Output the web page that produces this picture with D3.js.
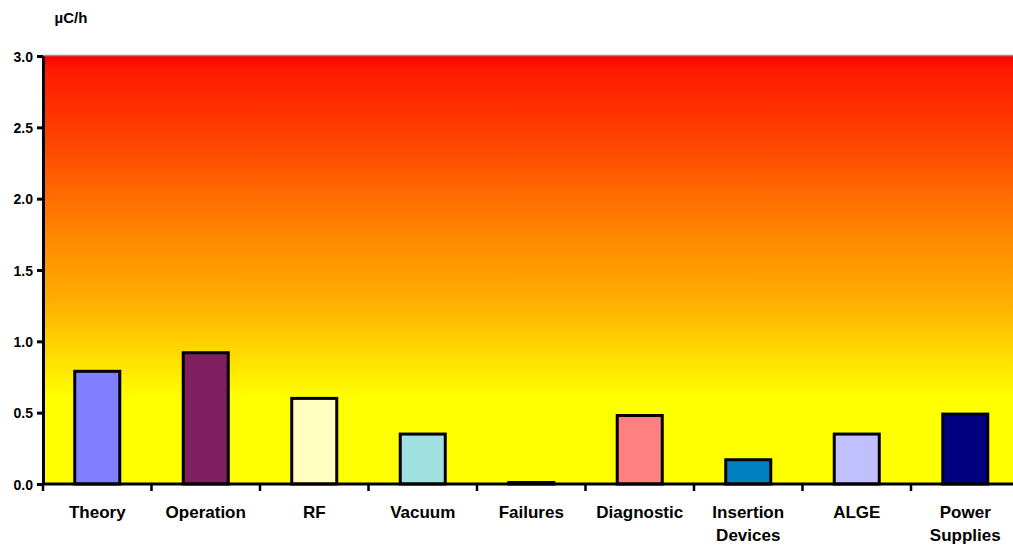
<!DOCTYPE html>
<html>
<head>
<meta charset="utf-8">
<script src="https://cdn.jsdelivr.net/npm/d3@7"></script>
<style>
  html, body { margin: 0; padding: 0; background: #fff; }
  svg { display: block; }
  text { font-family: "Liberation Sans", Arial, sans-serif; font-weight: bold; fill: #000; }
</style>
</head>
<body>
<svg id="chart" width="1013" height="551"></svg>
<script>
// Charge rate per group, in µC/h
const categories = ["Theory", "Operation", "RF", "Vacuum", "Failures", "Diagnostic", "Insertion Devices", "ALGE", "Power Supplies"];
const values = [0.79, 0.92, 0.60, 0.35, 0.01, 0.48, 0.17, 0.35, 0.49];
const barColors = ["#8080ff", "#7f1f5f", "#ffffc0", "#a0e0e0", "#600080", "#ff8080", "#0080c0", "#c0c0ff", "#000080"];
const yTicks = [0, 0.5, 1.0, 1.5, 2.0, 2.5, 3.0];
const unitLabel = "µC/h";

const svg = d3.select("#chart");
const margin = { left: 43, top: 56, bottom: 67 };
const plotW = 108.5 * categories.length;
const plotH = 551 - margin.top - margin.bottom;

const x = d3.scaleBand().domain(categories).range([margin.left, margin.left + plotW]).paddingInner(0.585).paddingOuter(0.2925);
const xTicks = d3.scaleBand().domain(categories).range([margin.left, margin.left + plotW]);
const y = d3.scaleLinear().domain([0, 3]).range([margin.top + plotH, margin.top]);

// background gradient: red at the top fading through orange to yellow
const defs = svg.append("defs");
const grad = defs.append("linearGradient").attr("id", "bg").attr("x1", 0).attr("y1", 0).attr("x2", 0).attr("y2", 1);
[[0, "#ff0000"], [0.03, "#ff1a00"], [0.2, "#ff4400"], [0.42, "#ff8800"], [0.58, "#ffb000"], [0.7, "#ffdc00"], [0.8, "#ffff00"], [1, "#ffff00"]]
  .forEach(([o, c]) => grad.append("stop").attr("offset", o).attr("stop-color", c));

svg.append("rect")
  .attr("x", margin.left).attr("y", margin.top)
  .attr("width", plotW).attr("height", plotH)
  .attr("fill", "url(#bg)");

// thin gray frame line along the top
svg.append("line")
  .attr("x1", margin.left).attr("x2", margin.left + plotW)
  .attr("y1", margin.top - 0.5).attr("y2", margin.top - 0.5)
  .attr("stroke", "#909090").attr("stroke-width", 1.5);

// bars
svg.append("g").selectAll("rect").data(categories).join("rect")
  .attr("x", d => x(d))
  .attr("width", x.bandwidth())
  .attr("y", (d, i) => y(values[i]))
  .attr("height", (d, i) => y(0) - y(values[i]))
  .attr("fill", (d, i) => barColors[i])
  .attr("stroke", "#000").attr("stroke-width", 3);

// y axis
const yAxis = svg.append("g").attr("transform", `translate(${margin.left},0)`)
  .call(d3.axisLeft(y).tickValues(yTicks).tickFormat(d3.format(".1f")).tickSize(6).tickSizeOuter(0));
yAxis.select(".domain").attr("stroke", "#000").attr("stroke-width", 3);
yAxis.selectAll(".tick line").attr("stroke", "#000").attr("stroke-width", 3);
yAxis.selectAll(".tick text").attr("x", -10).attr("dy", "0.36em").style("font-size", "14px").style("font-family", "Liberation Sans, Arial, sans-serif").style("font-weight", "bold");

// x axis baseline and ticks at category boundaries
const xg = svg.append("g");
xg.append("line")
  .attr("x1", margin.left).attr("x2", margin.left + plotW)
  .attr("y1", y(0)).attr("y2", y(0))
  .attr("stroke", "#000").attr("stroke-width", 3);
xg.selectAll("line.tick").data(categories).join("line").attr("class", "tick")
  .attr("x1", d => xTicks(d)).attr("x2", d => xTicks(d))
  .attr("y1", y(0)).attr("y2", y(0) + 7)
  .attr("stroke", "#000").attr("stroke-width", 2.5);

// category labels, wrapped onto two lines where needed
const labels = xg.selectAll("text.cat").data(categories).join("text").attr("class", "cat")
  .attr("text-anchor", "middle")
  .style("font-size", "17px");
labels.each(function (d) {
  const words = d.split(" ");
  const cx = x(d) + x.bandwidth() / 2;
  const t = d3.select(this);
  words.forEach((w, i) => {
    t.append("tspan").attr("x", cx).attr("y", y(0) + 34 + i * 23).text(w);
  });
});

// unit label
svg.append("text")
  .attr("x", 71).attr("y", 23)
  .attr("text-anchor", "middle")
  .style("font-size", "15px")
  .text(unitLabel);
</script>
</body>
</html>
